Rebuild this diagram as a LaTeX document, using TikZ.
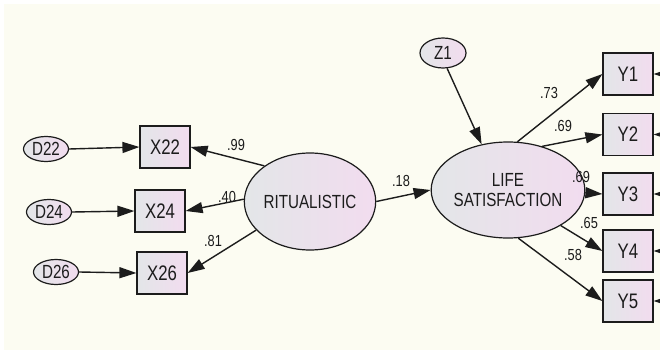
\documentclass[tikz,border=0pt]{standalone}
\usepackage{fontspec}
\setmainfont{Liberation Sans}
\newfontfamily\amosfont{Liberation Sans}[FakeStretch=0.8]
\usetikzlibrary{arrows.meta,shapes.geometric}
\definecolor{paper}{HTML}{FCFCF2}
\definecolor{shadeL}{HTML}{E3E6E8}
\definecolor{shadeR}{HTML}{F2DCEF}
\definecolor{ink}{HTML}{1C1C1C}

\begin{document}
\begin{tikzpicture}[x=1pt,y=-1pt,
    obs/.style={draw=ink,line width=1.2pt,rectangle,minimum width=50pt,minimum height=42pt,
      left color=shadeL,right color=shadeR,text=ink,font=\amosfont\fontsize{21}{21}\selectfont},
    err/.style={draw=ink,line width=1.2pt,ellipse,inner sep=0pt,minimum width=45pt,minimum height=25pt,
      left color=shadeL,right color=shadeR,text=ink,font=\amosfont\fontsize{19}{19}\selectfont},
    latent/.style={draw=ink,line width=1.2pt,ellipse,inner sep=0pt,
      left color=shadeL,right color=shadeR,text=ink,align=center,
      font=\amosfont\fontsize{19}{20}\selectfont},
    path/.style={draw=ink,line width=1.4pt,-{Triangle[length=17pt,width=11pt]}},
    lbl/.style={inner sep=0pt,text=ink,font=\amosfont\fontsize{16}{16}\selectfont}]
    \useasboundingbox (0,0) rectangle (660,350);
    \fill[white] (0,0) rectangle (660,350);
    \fill[paper] (4,4) rectangle (660,350);
    \clip (0,0) rectangle (660,350);

    % exogenous side
    \node[latent,minimum width=126pt,minimum height=97pt] (rit) at (310,201.5) {RITUALISTIC};
    \node[obs] (x22) at (165,147) {X22};
    \node[obs] (x24) at (160,211) {X24};
    \node[obs] (x26) at (162,273) {X26};
    \node[err] (d22) at (46,149) {D22};
    \node[err] (d24) at (49,212) {D24};
    \node[err] (d26) at (56,272) {D26};

    % endogenous side
    \node[latent,minimum width=127pt,minimum height=96pt] (life) at (508,190) {LIFE\\SATISFACTION};
    \node[err,minimum width=46pt,minimum height=30pt] (z1) at (443,53) {Z1};
    \node[obs] (y1) at (628,74) {Y1};
    \node[obs] (y2) at (628,134.5) {Y2};
    \node[obs] (y3) at (628,194) {Y3};
    \node[obs] (y4) at (628,251) {Y4};
    \node[obs] (y5) at (628,301) {Y5};

    % error terms off the page
    \coordinate (e1) at (672,74);
    \coordinate (e2) at (672,134.5);
    \coordinate (e3) at (672,194);
    \coordinate (e4) at (672,251);
    \coordinate (e5) at (672,301);

    \draw[path] (d22.east) -- (x22.west);
    \draw[path] (d24.east) -- (x24.west);
    \draw[path] (d26.east) -- (x26.west);
    \draw[path] (rit.142) -- (x22.east);
    \draw[path] (rit.178) -- (x24.east);
    \draw[path] (rit.208) -- (x26.east);
    \draw[path] (rit.east) -- (life.west);
    \draw[path] (z1.-75) -- (life.120);
    \draw[path] (life.79) -- (y1.west);
    \draw[path] (life.52) -- (y2.west);
    \draw[path] (life.-2) -- (y3.west);
    \draw[path] (life.-34) -- (y4.west);
    \draw[path] (life.-78) -- (y5.west);
    \foreach \i in {1,...,5}
        \draw[path] (e\i) -- (y\i.east);

    % weights
    \node[lbl] (w22) at (236,145) {.99};
    \node[lbl] (w24) at (227,197) {.40};
    \node[lbl] (w26) at (213,241) {.81};
    \node[lbl] (wl) at (401,181) {.18};
    \node[lbl] (w1) at (549,93) {.73};
    \node[lbl] (w2) at (563,126) {.69};
    \node[lbl] (w3) at (581,177) {.69};
    \node[lbl] (w4) at (589,223) {.65};
    \node[lbl] (w5) at (573,255) {.58};
\end{tikzpicture}
\end{document}
